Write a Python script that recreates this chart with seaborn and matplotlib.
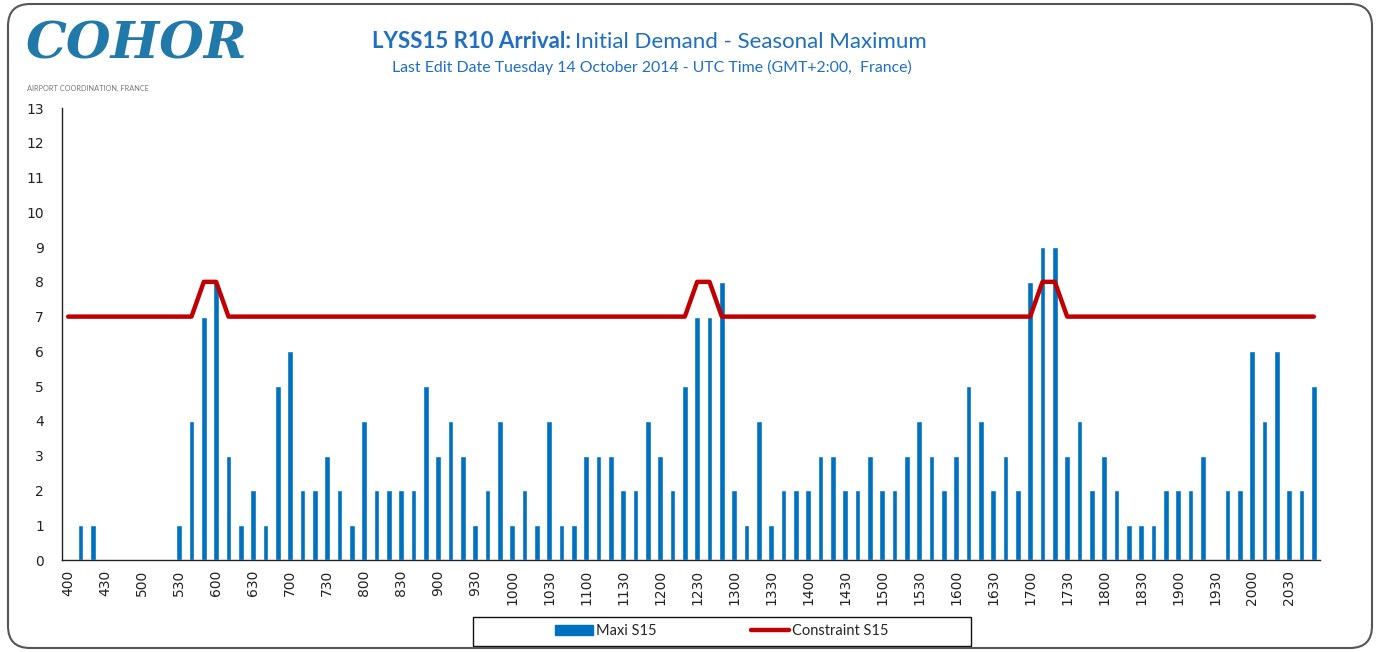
import matplotlib
matplotlib.use("Agg")
import matplotlib.pyplot as plt
from matplotlib.patches import Patch, FancyBboxPatch, Rectangle
from matplotlib.lines import Line2D
import numpy as np
import seaborn as sns

# 10-minute slots 400 .. 2050
slots = [f"{h}{m:02d}" for h in range(4, 21) for m in range(0, 60, 10)]

maxi_s15 = [0, 1, 1, 0, 0, 0,          # 400
            0, 0, 0, 1, 4, 7,          # 500
            8, 3, 1, 2, 1, 5,          # 600
            6, 2, 2, 3, 2, 1,          # 700
            4, 2, 2, 2, 2, 5,          # 800
            3, 4, 3, 1, 2, 4,          # 900
            1, 2, 1, 4, 1, 1,          # 1000
            3, 3, 3, 2, 2, 4,          # 1100
            3, 2, 5, 7, 7, 8,          # 1200
            2, 1, 4, 1, 2, 2,          # 1300
            2, 3, 3, 2, 2, 3,          # 1400
            2, 2, 3, 4, 3, 2,          # 1500
            3, 5, 4, 2, 3, 2,          # 1600
            8, 9, 9, 3, 4, 2,          # 1700
            3, 2, 1, 1, 1, 2,          # 1800
            2, 2, 3, 0, 2, 2,          # 1900
            6, 4, 6, 2, 2, 5]          # 2000

constraint_s15 = [7, 7, 7, 7, 7, 7,
                  7, 7, 7, 7, 7, 8,
                  8, 7, 7, 7, 7, 7,
                  7, 7, 7, 7, 7, 7,
                  7, 7, 7, 7, 7, 7,
                  7, 7, 7, 7, 7, 7,
                  7, 7, 7, 7, 7, 7,
                  7, 7, 7, 7, 7, 7,
                  7, 7, 7, 8, 8, 7,
                  7, 7, 7, 7, 7, 7,
                  7, 7, 7, 7, 7, 7,
                  7, 7, 7, 7, 7, 7,
                  7, 7, 7, 7, 7, 7,
                  7, 8, 8, 7, 7, 7,
                  7, 7, 7, 7, 7, 7,
                  7, 7, 7, 7, 7, 7,
                  7, 7, 7, 7, 7, 7]

BLUE = "#0070C0"
RED = "#C00000"
TITLE_BLUE = "#1F6FC0"

sns.set_style("white")
plt.rcParams["font.family"] = ["DejaVu Sans"]

W, H = 1378, 652
fig = plt.figure(figsize=(W / 100, H / 100), dpi=100)
ax = fig.add_axes([62 / W, 1 - 560 / H, (1320 - 62) / W, (560 - 108) / H])

n = len(slots)
sns.barplot(x=slots, y=maxi_s15, color=BLUE, saturation=1, width=0.45, ax=ax)
sns.lineplot(x=np.arange(n), y=constraint_s15, color=RED, linewidth=3.2,
             solid_joinstyle="round", solid_capstyle="round", ax=ax)

ax.set_xlim(-0.5, n - 0.5)
ax.set_ylim(0, 13)
ax.set_yticks(range(0, 14))
ax.set_xticks(range(0, n, 3))
ax.set_xticklabels(slots[::3], rotation=90)
ax.set_xticks(np.arange(-0.5, n, 1), minor=True)
ax.tick_params(axis="x", which="major", length=0, pad=7, labelsize=10, colors="#222222")
ax.tick_params(axis="x", which="minor", length=5, width=1, direction="out", color="#222222")
ax.tick_params(axis="y", length=4, width=1, direction="out", pad=9, labelsize=10,
               colors="#222222")
for s in ["top", "right"]:
    ax.spines[s].set_visible(False)
for s in ["left", "bottom"]:
    ax.spines[s].set_color("#222222")
    ax.spines[s].set_linewidth(1)
ax.set_xlabel("")
ax.set_ylabel("")

# titles
fig.text(571 / W, 1 - 42 / H, "LYSS15 R10 Arrival:", ha="right", va="center",
         fontsize=16, fontweight="bold", color=TITLE_BLUE, family=["Lato"])
fig.text(575 / W, 1 - 42 / H, "Initial Demand - Seasonal Maximum", ha="left", va="center",
         fontsize=16, color=TITLE_BLUE, family=["Lato"])
fig.text(652 / W, 1 - 67 / H,
         "Last Edit Date Tuesday 14 October 2014 - UTC Time (GMT+2:00,  France)",
         ha="center", va="center", fontsize=11.4, color=TITLE_BLUE, family=["Lato"])

# logo
fig.text(26 / W, 1 - 45 / H, "COHOR", ha="left", va="center", fontsize=37,
         fontweight="bold", style="italic", color="#2079A8", family=["DejaVu Serif"])
fig.text(27 / W, 1 - 88 / H, "AIRPORT COORDINATION, FRANCE", ha="left", va="center",
         fontsize=5.3, color="#777777", family=["Lato"])

# legend
fig.add_artist(Rectangle((473 / W, 1 - 646 / H), 498 / W, 29 / H, transform=fig.transFigure,
                         fill=False, edgecolor="#111111", linewidth=1))
handles = [Patch(facecolor=BLUE, edgecolor=BLUE, label="Maxi S15"),
           Line2D([0], [0], color=RED, linewidth=3.2, label="Constraint S15")]
fig.legend(handles=handles, loc="center", bbox_to_anchor=(722 / W, 1 - 631 / H), ncol=2,
           frameon=False, handlelength=2.6, handletextpad=0.2,
           columnspacing=6.5, prop={"family": ["Lato"], "size": 10.5})

# rounded outer frame
fig.add_artist(FancyBboxPatch((8 / W, 4 / H), 1364 / W, 644 / H,
                              boxstyle="round,pad=0,rounding_size=0.016",
                              transform=fig.transFigure, fill=False,
                              edgecolor="#555555", linewidth=1.5, mutation_aspect=W / H))

fig.savefig("out.png", dpi=100)
